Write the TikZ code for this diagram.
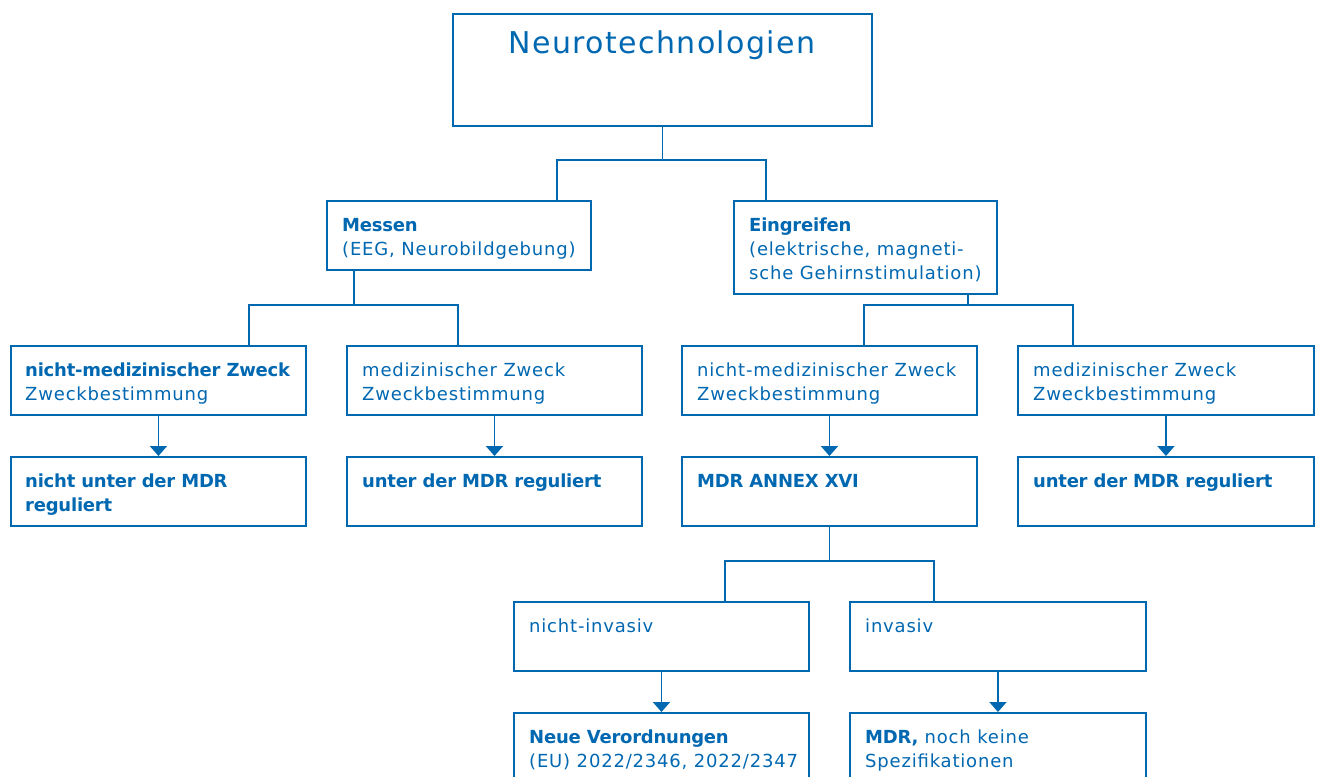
\documentclass[tikz,border=0pt]{standalone}
\usepackage{fontspec}
\setmainfont{DejaVu Sans}[LetterSpace=4.5, BoldFeatures={LetterSpace=-1.3}]
\usetikzlibrary{arrows.meta}
\definecolor{nblue}{RGB}{0,103,177}
\newcommand{\twol}[2]{\begin{tabular}[t]{@{}l@{}}#1\\#2\end{tabular}}
\newcommand{\threel}[3]{\begin{tabular}[t]{@{}l@{}}#1\\#2\\#3\end{tabular}}
\begin{document}
\begin{tikzpicture}[x=1pt,y=-1pt,
  box/.style={draw=nblue, line width=1.9pt, rectangle, inner sep=0pt, anchor=north west},
  wbox/.style={box, minimum width=295pt, minimum height=69pt},
  conn/.style={draw=nblue, line width=1.9pt},
  arr/.style={conn, -{Triangle[width=17pt,length=10pt]}},
  lbl/.style={anchor=base west, inner sep=0pt, text=nblue, font=\fontsize{18}{24}\selectfont}]
\useasboundingbox (0,0) rectangle (1319,776);
\clip (0,0) rectangle (1319,776);

% top
\node[box, minimum width=419pt, minimum height=112pt] (top) at (452,13) {};
\node[anchor=base, inner sep=0pt, text=nblue, font=\fontsize{30}{36}\selectfont] (ttop) at (662,54) {Neurotechnologien};

% level 2
\node[box, minimum width=264pt, minimum height=69pt] (mes) at (326,200) {};
\node[lbl] (tmes) at (342,231) {\twol{\textbf{Messen}}{(EEG, Neurobildgebung)}};
\node[box, minimum width=263pt, minimum height=93pt] (ein) at (733,200) {};
\node[lbl] (tein) at (749,231) {\threel{\textbf{Eingreifen}}{(elektrische, magneti-}{sche Gehirnstimulation)}};

% level 3
\node[wbox] (a3) at (10,345) {};
\node[lbl] (ta3) at (25,376) {\twol{\textbf{nicht-medizinischer Zweck}}{Zweckbestimmung}};
\node[wbox] (b3) at (346,345) {};
\node[lbl] (tb3) at (362,376) {\twol{medizinischer Zweck}{Zweckbestimmung}};
\node[wbox] (c3) at (681,345) {};
\node[lbl] (tc3) at (697,376) {\twol{nicht-medizinischer Zweck}{Zweckbestimmung}};
\node[wbox, minimum width=296pt] (d3) at (1017,345) {};
\node[lbl] (td3) at (1033,376) {\twol{medizinischer Zweck}{Zweckbestimmung}};

% level 4
\node[wbox] (a4) at (10,456) {};
\node[lbl] (ta4) at (25,487) {\twol{\textbf{nicht unter der MDR}}{\textbf{reguliert}}};
\node[wbox] (b4) at (346,456) {};
\node[lbl] (tb4) at (362,487) {\textbf{unter der MDR reguliert}};
\node[wbox] (c4) at (681,456) {};
\node[lbl] (tc4) at (697,487) {\textbf{MDR ANNEX XVI}};
\node[wbox, minimum width=296pt] (d4) at (1017,456) {};
\node[lbl] (td4) at (1033,487) {\textbf{unter der MDR reguliert}};

% level 5
\node[wbox] (e5) at (513,601) {};
\node[lbl] (te5) at (529,632) {nicht-invasiv};
\node[wbox, minimum width=296pt] (f5) at (849,601) {};
\node[lbl] (tf5) at (865,632) {invasiv};

% level 6
\node[box, minimum width=295pt, minimum height=100pt] (e6) at (513,712) {};
\node[lbl] (te6) at (529,743) {\twol{\textbf{Neue Verordnungen}}{(EU) 2022/2346, 2022/2347}};
\node[box, minimum width=296pt, minimum height=100pt] (f6) at (849,712) {};
\node[lbl] (tf6) at (865,743) {\twol{\textbf{MDR,} noch keine}{Spezifikationen}};

% junction coordinates
\coordinate (j1l) at (557,160);
\coordinate (j1r) at (766,160);
\coordinate (j2l) at (249,305);
\coordinate (j2r) at (458,305);
\coordinate (j2m) at (354,305);
\coordinate (j3l) at (864,305);
\coordinate (j3r) at (1073,305);
\coordinate (j3m) at (968,305);
\coordinate (j4l) at (725,561);
\coordinate (j4r) at (934,561);

% connectors
\draw[conn] (top.south) -- (top.south |- j1l);
\draw[conn] (mes.north -| j1l) -- (j1l) -- (j1r) -- (ein.north -| j1r);
\draw[conn] (mes.south -| j2m) -- (j2m);
\draw[conn] (a3.north -| j2l) -- (j2l) -- (j2r) -- (b3.north -| j2r);
\draw[conn] (ein.south -| j3m) -- (j3m);
\draw[conn] (c3.north -| j3l) -- (j3l) -- (j3r) -- (d3.north -| j3r);
\draw[conn] (c4.south) -- (c4.south |- j4l);
\draw[conn] (e5.north -| j4l) -- (j4l) -- (j4r) -- (f5.north -| j4r);

% arrows
\draw[arr] (a3.south) -- (a4.north);
\draw[arr] (b3.south) -- (b4.north);
\draw[arr] (c3.south) -- (c4.north);
\draw[arr] (d3.south) -- (d4.north);
\draw[arr] (e5.south) -- (e6.north);
\draw[arr] (f5.south) -- (f6.north);
\end{tikzpicture}
\end{document}
